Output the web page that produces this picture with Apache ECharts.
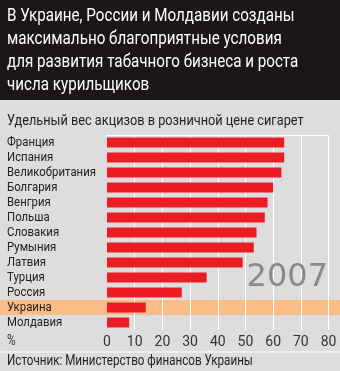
<!DOCTYPE html>
<html><head><meta charset="utf-8">
<script src="https://cdn.jsdelivr.net/npm/echarts@6/dist/echarts.min.js"></script>
<style>html,body{margin:0;padding:0;background:#dddddd}#c{width:340px;height:371px}</style>
</head><body><div id="c"></div>
<script>
const categories = ['Франция','Испания','Великобритания','Болгария','Венгрия','Польша','Словакия','Румыния','Латвия','Турция','Россия','Украина','Молдавия'];
const values = [64, 64, 63, 60, 58, 57, 54, 53, 49, 36, 27, 14, 8];
const tickLabels = ['0','10','20','30','40','50','60','70','80'];
const highlight = 'Украина';
const titleLines = ['В Украине, России и Молдавии созданы','максимально благоприятные условия','для развития табачного бизнеса и роста','числа курильщиков'];
const subtitle = 'Удельный вес акцизов в розничной цене сигарет';
const source = 'Источник: Министерство финансов Украины';
const yearText = '2007';

const FONT = "Roboto, 'Liberation Sans', sans-serif";
// horizontal condensing factor, to imitate the condensed typeface of the original
const ctx = document.createElement('canvas').getContext('2d');
ctx.font = '13.5px ' + FONT;
const SX = 89 / ctx.measureText('Великобритания').width;

const chart = echarts.init(document.getElementById('c'));
const splitColors = tickLabels.map((t,i)=> i===0 ? 'rgba(0,0,0,0)' : '#ffffff');
chart.setOption({
  backgroundColor: '#dddddd',
  animation: false,
  grid: {left: 107, right: 11.5, top: 135, bottom: 41, containLabel: false},
  xAxis: [{
    type: 'value', min: 0, max: 80, interval: 10,
    axisLine: {show: false}, axisTick: {show: false},
    splitLine: {show: true, lineStyle: {color: splitColors, width: 1}},
    axisLabel: {show: true, margin: 5, color: '#333', fontSize: 14, fontFamily: FONT,
      formatter: (v)=> tickLabels[Math.round(v/10)] }
  },{
    type: 'value', min: 0, max: 80, position: 'top',
    axisLine: {show: true, lineStyle: {color: '#ffffff', width: 1}},
    axisTick: {show: false}, axisLabel: {show: false}, splitLine: {show: false}
  }],
  yAxis: {
    type: 'category', data: categories, inverse: true,
    axisLine: {show: false}, axisTick: {show: false},
    axisLabel: {show: false}
  },
  series: [{
    type: 'bar', data: values, barWidth: 10,
    itemStyle: {color: '#ed1c24'}, z: 3
  }]
});

const yc = chart.convertToPixel({yAxisIndex: 0}, highlight);
const idx = categories.indexOf(highlight);
const yn = chart.convertToPixel({yAxisIndex: 0}, categories[idx-1]);
const band = Math.abs(yc - yn);

function narrowText(text, x, y, size, color, extra) {
  return Object.assign({type: 'text', x: x, y: y, scaleX: SX, scaleY: 1, z: 5,
    style: {text: text, fill: color, fontSize: size, fontFamily: FONT, align: 'left', verticalAlign: 'middle'}}, extra || {});
}

const g = [
  {type: 'rect', z: -10, shape: {x: 0, y: 0, width: 340, height: 100}, style: {fill: '#1b1718'}},
  {type: 'rect', z: -5, silent: true, shape: {x: 0, y: yc - band/2, width: 340, height: band}, style: {fill: '#fbbd87'}},
  {type: 'rect', shape: {x: 0, y: 351.5, width: 340, height: 1}, style: {fill: '#ffffff'}},
  {type: 'text', x: 328, y: 277.5, z: 5, style: {text: yearText, fill: '#8a8a8a', fontSize: 32, fontFamily: "'DejaVu Sans',sans-serif", align: 'right', verticalAlign: 'middle'}},
  narrowText(subtitle, 7, 121, 15.1, '#222'),
  narrowText('%', 7, 341.5, 14, '#333'),
  narrowText(source, 7, 362, 13.8, '#222')
];
titleLines.forEach((t, i) => g.push(narrowText(t, 7, 16 + i * 23.3, 18, '#ffffff')));
categories.forEach(c => {
  g.push(narrowText(c, 7, chart.convertToPixel({yAxisIndex: 0}, c), 13.5, '#222'));
});
chart.setOption({graphic: g});
</script></body></html>
